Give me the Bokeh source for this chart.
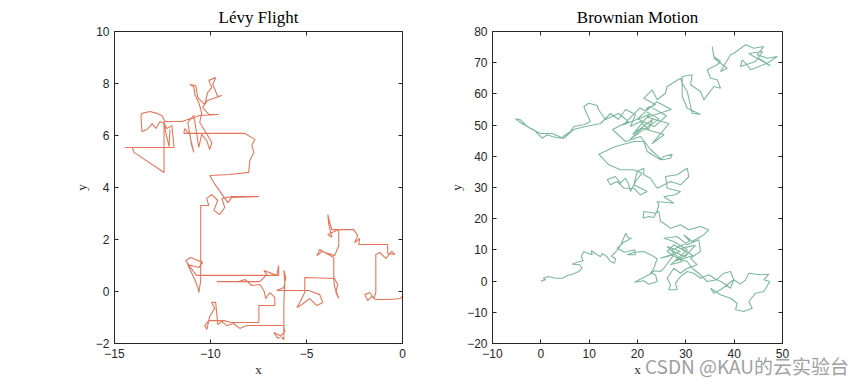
from bokeh.plotting import figure
from bokeh.layouts import row
from bokeh.models import LinearAxis, FixedTicker, Range1d
from bokeh.embed import file_html
from bokeh.resources import INLINE

# ---------------- data ----------------
levy_x = [0.0, 0.02, -0.09, -0.66, -1.39, -1.60, -1.81, -1.96, -1.70, -1.49,
          -1.39, -1.39, -1.18, -0.87, -0.56, -0.40, -0.77, -0.77, -2.28, -2.23,
          -2.49, -2.33, -2.54, -3.68, -3.79, -3.89, -3.84, -3.68, -3.89, -3.32,
          -3.32, -3.53, -4.20, -4.46, -4.31, -4.05, -3.58, -3.58, -3.37, -3.47,
          -3.32, -3.53, -3.58, -5.09, -5.09, -5.35, -5.50, -5.24, -4.83, -4.46,
          -4.15, -4.31, -4.88, -6.55, -6.18, -6.08, -6.18, -6.13, -6.18, -6.18,
          -6.18, -6.39, -6.70, -6.49, -6.13, -6.18, -7.43, -8.11, -8.47, -8.79,
          -9.15, -9.41, -9.62, -9.73, -9.94, -9.78, -10.04, -10.19, -10.30, -10.09,
          -9.67, -9.31, -8.89, -7.48, -7.48, -6.65, -6.65, -6.91, -7.12, -7.22,
          -7.43, -7.85, -8.21, -8.53, -9.67, -7.43, -7.07, -7.22, -6.55, -6.45,
          -6.45, -10.72,
          -10.93, -11.29, -11.03, -10.41, -10.61, -11.19, -10.82, -10.66, -10.61, -10.51,
          -10.51, -10.51, -10.51, -10.09, -10.20, -9.93, -9.62, -9.83, -9.52, -9.26,
          -9.41, -8.89, -7.48, -8.89, -9.10,
          -9.57, -9.83, -10.04, -9.00, -8.01, -7.95, -7.74, -7.85, -7.69, -8.21,
          -9.93, -11.39, -11.34, -11.08, -10.98, -10.87, -11.03, -11.18, -10.87, -10.77,
          -10.61, -10.46, -10.20, -10.04, -9.93, -10.30, -10.56,
          -10.46, -10.61, -10.82, -10.87, -11.08, -10.77, -10.66, -10.30, -10.15, -9.93,
          -10.09, -9.73, -9.88, -9.62, -9.41, -10.15, -10.41, -10.09, -9.57, -10.56,
          -11.49, -12.37, -12.53, -12.79, -13.15, -13.57, -13.62, -13.57, -13.30, -13.04,
          -12.84, -12.63, -12.42, -12.27, -12.01, -11.90, -14.45, -14.08, -13.98, -12.42,
          -12.42, -12.42, -12.32, -12.16, -12.11]
levy_y = [0.0, -0.15, -0.27, -0.31, -0.31, -0.19, -0.35, -0.12, -0.04, -0.27,
          -0.04, 1.42, 1.50, 1.27, 1.54, 1.42, 1.46, 1.81, 1.81, 2.04,
          1.88, 2.15, 2.38, 2.38, 2.65, 2.96, 2.58, 2.08, 2.19, 2.38,
          1.77, 1.38, 1.54, 1.38, 1.62, 1.50, 1.31, 0.54, 0.27, -0.04,
          -0.27, 0.15, 0.50, 0.54, -0.04, -0.42, -0.62, -0.50, -0.27, -0.54,
          -0.42, -0.12, 0.04, 0.04, 0.15, 0.54, 0.81, 0.35, -0.42, -1.31,
          -1.85, -1.69, -1.58, -1.81, -1.54, -1.31, -1.31, -1.31, -1.42, -1.23,
          -1.31, -1.15, -1.27, -0.42, -0.42, -0.65, -0.96, -1.46, -1.31, -1.12,
          -1.12, -1.12, -1.19, -1.19, -0.54, -0.54, -0.23, -0.04, -0.27, 0.04,
          0.27, 0.23, 0.46, 0.38, 0.38, 0.38, 0.65, 0.81, 0.62, 1.00,
          0.62, 0.62,
          0.81, 1.19, 1.31, 1.12, 0.92, 1.04, 0.46, 0.15, -0.04, 0.42,
          0.62, 1.88, 3.31, 3.31, 3.58, 3.73, 3.50, 3.12, 2.96, 3.23,
          3.58, 3.65, 3.65, 3.62, 3.42,
          3.92, 4.19, 4.46, 4.50, 4.58, 5.04, 5.35, 5.62, 5.85, 6.08,
          6.08, 6.08, 6.27, 6.04, 5.62, 5.35, 5.85, 6.50, 6.77, 6.31,
          5.54, 6.04, 5.81, 5.46, 5.73, 6.19, 6.50,
          6.88, 7.27, 7.58, 7.88, 7.96, 7.92, 7.46, 7.19, 7.65, 7.85,
          8.12, 8.23, 7.96, 7.50, 7.54, 7.35, 7.08, 6.81, 6.81, 6.77,
          6.54, 6.54, 6.77, 6.85, 6.92, 6.85, 6.77, 6.15, 6.23, 6.46,
          6.27, 6.54, 6.46, 6.27, 6.38, 5.54, 5.54, 5.54, 5.35, 4.58,
          5.73, 6.54, 6.08, 5.58, 6.23]

brown_x = [0, 0.97, 0.49, 1.65, 3.04, 4.42, 5.46, 6.49, 7.86, 8.56,
           8.06, 6.49, 7.53, 8.77, 8.35, 8.89, 9.72, 10.63, 10.42, 11.31,
           12.35, 12.70, 13.59, 14.42, 15.24, 15.45, 14.62, 15.45, 16.48, 17.58,
           17.99, 18.76, 17.17, 15.80, 17.31, 19.38, 19.59, 17.87, 19.24, 21.31,
           23.37, 24.08, 23.37, 22.69, 23.73, 24.08, 22.34, 21.31, 19.38, 20.97,
           22.34, 23.52, 24.76, 25.44, 27.51, 24.76, 28.90, 26.15, 29.25, 26.83,
           30.29, 27.51, 25.44, 28.22, 30.29, 32.69, 33.04, 30.97, 32.35, 30.29,
           28.90, 27.51, 26.15, 26.83, 26.48, 28.22, 27.86, 28.90, 30.29, 31.65,
           33.04, 34.75, 36.35, 37.86, 39.24, 39.93, 38.56, 37.18, 35.79, 35.11,
           37.18, 39.24, 40.63, 40.28, 41.99, 43.73, 43.03, 44.42, 46.13, 47.38,
           46.13, 47.17, 45.45, 43.03, 42.35, 41.31, 39.93, 39.24, 37.86, 36.49,
           34.42, 33.04, 31.32, 30.29, 28.22, 26.15, 27.51,
           30.50, 28.00, 31.50, 29.00, 32.00, 29.80, 27.00, 30.80,
           29.58, 31.32, 33.72,
           34.75, 33.04, 30.62, 28.90, 26.83, 25.44, 24.76,
           24.41, 23.72, 21.31, 21.18, 22.34, 23.37, 23.93, 24.41, 24.08, 27.51,
           25.44, 27.86, 28.90, 26.15, 25.80, 28.22, 30.29, 30.62, 28.90, 26.83,
           24.08, 22.69, 21.31, 21.31, 19.94, 19.24, 22.01, 20.62, 19.24, 17.17,
           15.80, 14.42, 13.73, 15.45, 16.48, 17.52, 18.20, 18.55, 19.59, 20.97,
           19.24, 16.48, 14.06, 11.99, 15.45, 19.24, 21.31, 22.01, 24.76, 25.44,
           27.18, 26.83, 25.11,
           22.69, 20.62, 17.52, 14.83, 18.14, 16.07, 13.38, 11.93, 11.66, 9.93,
           8.89, 9.45, 10.28, 8.89, 6.82, 6.14, 4.07, 2.35, 1.32, 0.28,
           -1.46, -2.82, -4.21, -5.24, -4.21, -2.14, -0.07, 2.41, 4.69, 6.76,
           9.24, 12.35, 14.42, 16.07, 17.52, 19.59, 18.55, 20.62, 22.28, 23.10,
           19.00, 22.50, 17.00, 20.50, 24.50, 18.50, 21.00,
           25.50, 23.00, 26.50, 22.00, 27.00, 24.00, 20.00, 23.50, 26.00, 22.50,
           21.66, 23.73, 21.31, 23.04, 24.08, 25.80, 26.15, 28.90, 29.25, 30.29,
           31.32, 33.04, 30.29, 29.25, 29.25, 31.32, 30.97, 33.04, 33.72, 35.79,
           37.18, 36.49, 35.11, 34.42, 36.49, 37.18, 35.79, 35.46, 35.90, 38.56,
           37.18, 39.24,
           39.93, 42.35, 44.07, 46.13, 44.77, 46.84, 48.91, 46.84, 43.38, 42.70,
           41.66, 41.31, 44.42, 45.87, 43.00, 47.50, 45.00]
brown_y = [0, 0.42, 0.93, 1.47, 0.93, 0.93, 1.79, 2.21, 3.08, 4.13,
           5.22, 5.42, 6.06, 6.51, 7.88, 9.49, 8.94, 8.43, 9.71, 8.85,
           7.79, 8.85, 7.98, 6.28, 5.74, 7.15, 7.98, 9.26, 11.41, 15.35,
           13.97, 13.75, 12.47, 10.54, 9.26, 10.03, 8.43, 8.43, 9.26, 9.49,
           7.88, 7.15, 4.13, 2.53, 2.02, -0.13, -0.99, 0.10, -0.35, 0.93,
           2.02, 3.30, 3.08, 4.13, 8.43, 7.34, 9.49, 11.09, 6.28, 5.22,
           10.03, 12.69, 13.75, 14.29, 11.63, 13.24, 9.49, 7.34, 5.22, 4.13,
           2.53, 4.13, 0.93, -1.19, -2.79, -2.79, -0.67, 1.47, 3.08, 2.53,
           0.93, 2.02, 0.42, 2.53, 3.08, 0.42, -1.19, -2.79, -3.88, -2.28,
           -4.39, -5.48, -7.08, -9.20, -9.74, -8.69, -6.54, -3.88, -3.33, -0.13,
           0.42, 2.21, 2.02, 2.53, 0.42, -0.99, 0.42, -2.28, -0.67, 0.42,
           -0.13, 2.02, 4.13, 6.28, 7.34, 9.49, 11.63,
           9.00, 6.50, 8.20, 10.50, 11.50, 7.80, 9.80, 12.80,
           14.84, 12.69, 14.84,
           16.44, 17.50, 16.44, 18.04, 16.96, 18.56, 19.10,
           22.31, 21.76, 22.31, 20.16, 20.71, 20.38, 22.08, 24.23, 25.51, 24.97,
           27.12, 27.66, 28.72, 29.78, 33.53, 34.07, 36.19, 33.53, 30.87, 31.92,
           29.78, 32.98, 34.07, 36.19, 35.13, 30.87, 28.72, 27.66, 29.78, 29.78,
           31.92, 30.87, 32.47, 33.53, 31.38, 32.98, 30.87, 28.72, 31.92, 34.58,
           35.67, 35.67, 37.28, 40.67, 43.14, 44.74, 44.74, 41.54, 38.88, 39.94,
           40.67, 39.39, 38.88,
           42.18, 46.35, 44.74, 48.59, 51.15, 53.72, 51.79, 55.00, 56.28, 57.02,
           55.96, 53.81, 51.15, 50.10, 49.55, 47.95, 45.80, 46.35, 46.89, 45.80,
           48.49, 49.55, 51.70, 52.02, 50.83, 48.91, 47.31, 47.31, 45.71, 48.59,
           49.55, 50.51, 53.72, 51.79, 54.99, 53.40, 49.55, 51.15, 48.59, 51.79,
           47.00, 53.50, 50.00, 55.50, 52.00, 45.50, 49.00,
           47.00, 44.00, 50.50, 52.50, 55.00, 57.50, 52.00, 49.50, 53.00, 56.00,
           54.99, 56.60, 58.62, 61.31, 58.11, 60.22, 62.37, 65.03, 63.43, 60.77,
           53.81, 53.40, 55.42, 59.17, 65.58, 66.12, 62.92, 60.77, 58.11, 62.37,
           61.83, 64.52, 65.03, 67.72, 69.33, 70.38, 71.99, 75.19, 71.35, 68.24,
           67.18, 72.53,
           73.04, 75.74, 74.65, 75.19, 72.53, 71.44, 71.99, 69.84, 67.72, 69.33,
           70.93, 68.78, 70.38, 73.59, 72.95, 69.00, 71.50]

levy_xticks = [-15, -10, -5, 0]
levy_yticks = [-2, 0, 2, 4, 6, 8, 10]
brown_xticks = [-10, 0, 10, 20, 30, 40, 50]
brown_yticks = [-20, -10, 0, 10, 20, 30, 40, 50, 60, 70, 80]

titles = ["Lévy Flight", "Brownian Motion"]
watermark = "CSDN @KAU的云实验台"

# ---------------- styling ----------------
AX = "#262626"
LEVY_COLOR = "#E3765A"
BROWN_COLOR = "#7DB89D"


def style_axis(ax, ticks, show_labels=True, label="", label_standoff=1):
    ax.ticker = FixedTicker(ticks=ticks)
    ax.axis_line_color = AX
    ax.axis_line_width = 1
    ax.major_tick_line_color = AX
    ax.major_tick_in = 4
    ax.major_tick_out = 0
    ax.minor_tick_in = 0
    ax.minor_tick_out = 0
    ax.minor_tick_line_color = None
    ax.major_label_text_font = "Liberation Sans"
    if show_labels:
        ax.major_label_text_font_size = "12px"
        ax.major_label_text_color = AX
        ax.major_label_standoff = 5
    else:
        ax.major_label_text_font_size = "0px"
        ax.major_label_text_color = None
        ax.major_label_standoff = 0
    ax.axis_label = label
    ax.axis_label_text_font = "Liberation Serif"
    ax.axis_label_text_font_size = "13px"
    ax.axis_label_text_font_style = "normal"
    ax.axis_label_text_color = AX
    ax.axis_label_standoff = label_standoff


def make(title, xr, yr, xt, yt, fw, bl, br, ystand):
    p = figure(frame_width=fw, frame_height=312,
               x_range=Range1d(*xr), y_range=Range1d(*yr),
               output_backend="svg", toolbar_location=None,
               min_border_left=bl, min_border_right=br,
               min_border_top=22, min_border_bottom=34, title=title)
    p.xgrid.visible = False
    p.ygrid.visible = False
    p.outline_line_color = None
    p.background_fill_color = "white"
    p.border_fill_color = "white"
    p.title.align = "center"
    p.title.text_font = "Liberation Serif"
    p.title.text_font_size = "17px"
    p.title.text_font_style = "normal"
    p.title.text_color = "black"
    style_axis(p.xaxis[0], xt, True, "x", 1)
    style_axis(p.yaxis[0], yt, True, "y", ystand)
    top = LinearAxis()
    style_axis(top, xt, False)
    p.add_layout(top, "above")
    right = LinearAxis()
    style_axis(right, yt, False)
    p.add_layout(right, "right")
    return p


p1 = make(titles[0], (-15, 0), (-2, 10), levy_xticks, levy_yticks, 288, 114, 10, 4)
p1.line(levy_x, levy_y, line_color=LEVY_COLOR, line_width=1.1)

p2 = make(titles[1], (-10, 50), (-20, 80), brown_xticks, brown_yticks, 290, 80, 75, 0)
p2.line(brown_x, brown_y, line_color=BROWN_COLOR, line_width=1.1)

layout = row(p1, p2)
html = file_html(layout, INLINE)
wm_div = ('<div style="position:absolute; left:645px; top:356px; '
          'font-family:\'Noto Sans CJK SC\'; font-size:19px; line-height:19px; '
          'color:#a0a0a0; white-space:nowrap; z-index:10;">' + watermark + '</div>')
html = html.replace("</body>", wm_div + "</body>")
open("out.html", "w").write(html)
